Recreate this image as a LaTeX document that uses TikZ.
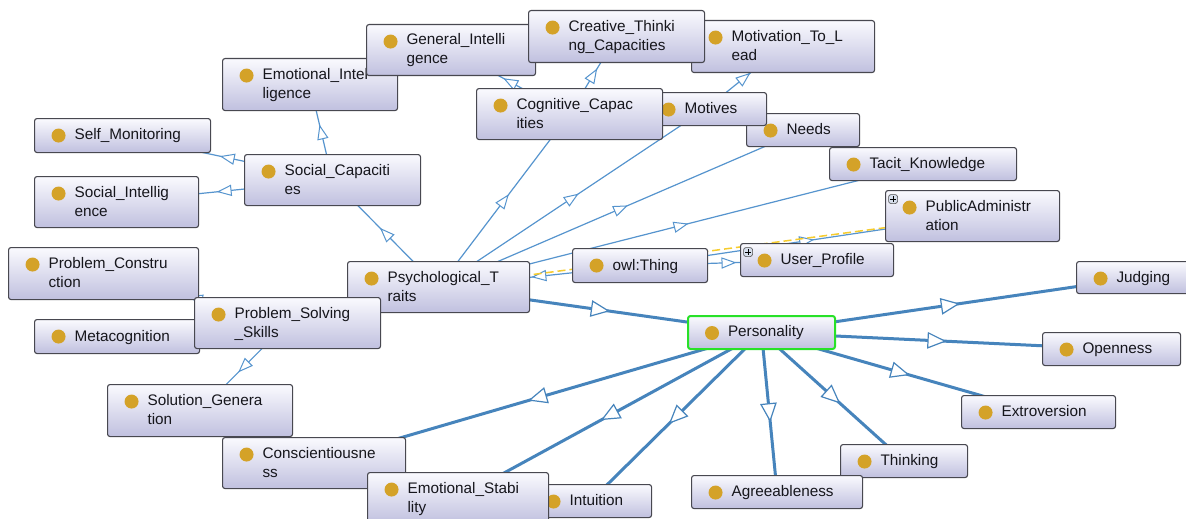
\documentclass[tikz,border=0pt]{standalone}
\usepackage{fontspec}
\newfontfamily\labelfont{Liberation Sans}
\usetikzlibrary{decorations.markings}
\pgfdeclarelayer{canvas}
\pgfdeclarelayer{edges}
\pgfsetlayers{canvas,edges,main}

\definecolor{boxtop}{RGB}{250,250,254}
\definecolor{boxbot}{RGB}{192,192,223}
\definecolor{boxline}{RGB}{72,72,80}
\definecolor{classdot}{RGB}{212,162,40}
\definecolor{isaline}{RGB}{86,148,206}
\definecolor{isathick}{RGB}{70,132,188}
\definecolor{propline}{RGB}{246,204,46}
\definecolor{focusgreen}{RGB}{40,225,40}
\definecolor{labeltext}{RGB}{22,22,28}
\definecolor{plusfill}{RGB}{214,222,236}

\tikzset{
  cls/.style={rectangle, rounded corners=2.5pt, draw=boxline, line width=1.1pt,
    top color=boxtop, bottom color=boxbot, inner sep=0pt,
    text=labeltext, font=\labelfont\fontsize{15.3}{19}\selectfont,
    path picture={\fill[classdot] ([xshift=24pt,yshift=-17pt]path picture bounding box.north west) circle (7pt);}},
  expandable/.style={path picture={%
    \fill[classdot] ([xshift=24pt,yshift=-17pt]path picture bounding box.north west) circle (7pt);
    \draw[draw=gray!60!black, fill=plusfill, line width=0.6pt]
      ([xshift=3pt,yshift=-4pt]path picture bounding box.north west) rectangle ++(9pt,-9pt);
    \draw[black, line width=0.9pt]
      ([xshift=7.5pt,yshift=-5.5pt]path picture bounding box.north west) -- ++(0pt,-6pt)
      ([xshift=4.5pt,yshift=-8.5pt]path picture bounding box.north west) -- ++(6pt,0pt);}},
  focus/.style={draw=focusgreen, line width=2pt},
  isa/.style={draw=isaline, line width=1.2pt, postaction={decorate},
    decoration={markings, mark=at position 0.5 with {%
      \filldraw[draw=isaline, fill=white, line width=1pt, solid]
        (6.5pt,0pt) -- (-6.5pt,5pt) -- (-6.5pt,-5pt) -- cycle;}}},
  isabold/.style={draw=isathick, line width=3pt, postaction={decorate},
    decoration={markings, mark=at position 0.5 with {%
      \filldraw[draw=isathick, fill=white, line width=1.2pt, solid]
        (8.5pt,0pt) -- (-8.5pt,7.5pt) -- (-8.5pt,-7.5pt) -- cycle;}}},
  prop/.style={draw=propline, line width=1.5pt, dash pattern=on 8pt off 4pt},
}

% \classnode[options]{name}{left}{top}{right}{bottom}{label lines}
% the label starts 40pt in from the left edge, past the class dot
\newcommand\classnode[7][]{%
  \pgfmathsetmacro\clsw{#5-#3}%
  \pgfmathsetmacro\clsh{#6-#4}%
  \node[cls,#1,anchor=north west,minimum width=\clsw pt,
        minimum height=\clsh pt]
    (#2) at (#3,#4)
    {\makebox[\clsw pt][l]{\hspace*{40pt}\raisebox{-8.5pt}{\smash{%
      \begin{tabular}{@{}l@{}}#7\end{tabular}}}}};}

\begin{document}
\begin{tikzpicture}[x=1pt,y=-1pt]
\useasboundingbox (0,0) rectangle (1186,519);
\begin{pgfonlayer}{canvas}
  \fill[white] (0,0) rectangle (1186,519);
\end{pgfonlayer}

% upper cluster
\classnode{EI}{222}{58}{397}{110}{Emotional\_Intel\\ligence}
\classnode{GI}{366}{24}{535}{75}{General\_Intelli\\gence}
\classnode{ML}{691}{20}{874}{72}{Motivation\_To\_L\\ead}
\classnode{CT}{528}{10}{704}{62}{Creative\_Thinki\\ng\_Capacities}
\classnode{ND}{746}{113}{859}{146}{Needs}
\classnode{MO}{644}{92}{766}{125}{Motives}
\classnode{CC}{476}{88}{662}{139}{Cognitive\_Capac\\ities}
\classnode{TK}{829}{147}{1016}{180}{Tacit\_Knowledge}
\classnode[expandable]{PA}{885}{190}{1059}{241}{PublicAdministr\\ation}
\classnode[expandable]{UP}{740}{243}{893}{276}{User\_Profile}
\classnode{OT}{572}{248}{707}{282}{owl:Thing}

% left cluster
\classnode{SM}{34}{118}{210}{152}{Self\_Monitoring}
\classnode{SC}{244}{154}{420}{205}{Social\_Capaciti\\es}
\classnode{SI}{34}{176}{198}{227}{Social\_Intellig\\ence}
\classnode{PC}{8}{247}{198}{299}{Problem\_Constru\\ction}
\classnode{MC}{34}{319}{199}{353}{Metacognition}
\classnode{PT}{347}{261}{529}{312}{Psychological\_T\\raits}
\classnode{PS}{194}{297}{380}{348}{Problem\_Solving\\\_Skills}
\classnode{SG}{107}{384}{292}{436}{Solution\_Genera\\tion}

% personality cluster
\classnode{IN}{529}{484}{651}{517}{Intuition}
\classnode{CO}{222}{437}{405}{488}{Conscientiousne\\ss}
\classnode{ES}{367}{472}{548}{523}{Emotional\_Stabi\\lity}
\classnode[focus]{PE}{687}{315}{834}{348}{Personality}
\classnode{JU}{1076}{261}{1200}{293}{Judging}
\classnode{OP}{1042}{332}{1180}{365}{Openness}
\classnode{EX}{961}{395}{1115}{428}{Extroversion}
\classnode{TH}{840}{444}{967}{477}{Thinking}
\classnode{AG}{691}{475}{862}{508}{Agreeableness}

\begin{pgfonlayer}{edges}
  % thin subclass links
  \draw[isa] (PT.center) -- (SC.center);
  \draw[isa] (PT.center) -- (CC.center);
  \draw[isa] (PT.center) -- (MO.center);
  \draw[isa] (PT.center) -- (ND.center);
  \draw[isa] (PT.center) -- (TK.center);
  \draw[isa] (PT.center) -- (PS.center);
  \draw[isa] (SC.center) -- (EI.center);
  \draw[isa] (SC.center) -- (SM.center);
  \draw[isa] (SC.center) -- (SI.center);
  \draw[isa] (CC.center) -- (GI.center);
  \draw[isa] (CC.center) -- (CT.center);
  \draw[isa] (MO.center) -- (ML.center);
  \draw[isa] (PS.center) -- (PC.center);
  \draw[isa] (PS.center) -- (MC.center);
  \draw[isa] (PS.center) -- (SG.center);
  \draw[isa] (OT.center) -- (PT.center);
  \draw[isa] (OT.center) -- (UP.center);
  \draw[isa] (OT.center) -- (PA.center);
  % property link
  \draw[prop] (PT.center) -- (PA.center);
  % bold links of the selected class
  \draw[isabold] (PT.center) -- (PE.center);
  \draw[isabold] (PE.center) -- (JU.center);
  \draw[isabold] (PE.center) -- (OP.center);
  \draw[isabold] (PE.center) -- (EX.center);
  \draw[isabold] (PE.center) -- (TH.center);
  \draw[isabold] (PE.center) -- (AG.center);
  \draw[isabold] (PE.center) -- (IN.center);
  \draw[isabold] (PE.center) -- (ES.center);
  \draw[isabold] (PE.center) -- (CO.center);
\end{pgfonlayer}
\end{tikzpicture}
\end{document}
